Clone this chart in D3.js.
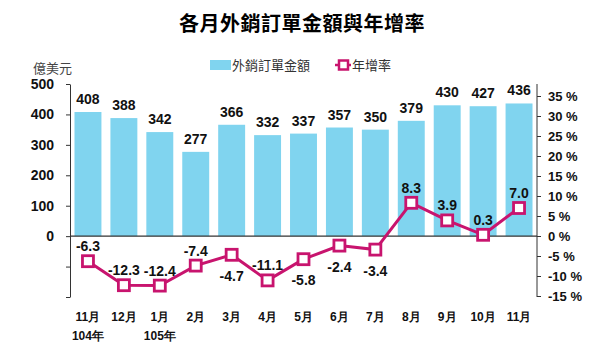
<!DOCTYPE html>
<html>
<head>
<meta charset="utf-8">
<script src="https://cdn.jsdelivr.net/npm/d3@7"></script>
<style>
  body { margin: 0; background: #fff; }
  svg { display: block; font-family: "Liberation Sans Narrow", "Liberation Sans", Arial, sans-serif; }
</style>
</head>
<body>
<svg id="chart" width="599" height="351"></svg>
<script>
// data
const months = ['11月', '12月', '1月', '2月', '3月', '4月', '5月', '6月', '7月', '8月', '9月', '10月', '11月'];
const yearLabels = ['104年', '', '105年', '', '', '', '', '', '', '', '', '', ''];
const orders = [408, 388, 342, 277, 366, 332, 337, 357, 350, 379, 430, 427, 436];
const growth = [-6.3, -12.3, -12.4, -7.4, -4.7, -11.1, -5.8, -2.4, -3.4, 8.3, 3.9, 0.3, 7.0];
const growthLabelSide = ['up', 'up', 'up', 'up', 'down', 'up', 'down', 'down', 'down', 'up', 'up', 'up', 'up'];
const leftTicks = [-200, -100, 0, 100, 200, 300, 400, 500];
const rightTicks = [-15, -10, -5, 0, 5, 10, 15, 20, 25, 30, 35];

const barColor = '#80d4ef';
const lineColor = '#c8146e';
const axisColor = '#333';

const svg = d3.select('#chart');
const plotLeft = 70, plotRight = 537, plotTop = 84, plotBottom = 297;

const x = d3.scaleBand().domain(d3.range(months.length)).range([plotLeft, plotRight]).paddingInner(0.25).paddingOuter(0.125);
const yL = d3.scaleLinear().domain([-200, 500]).range([plotBottom, plotTop]);
const yR = d3.scaleLinear().domain([-15, 35]).range([296, 96]);

// title
svg.append('text')
  .attr('x', 302).attr('y', 31)
  .attr('text-anchor', 'middle')
  .style('font-family', '"Noto Sans CJK TC", sans-serif')
  .style('font-weight', 'bold')
  .style('font-size', '20px')
  .style('letter-spacing', '0.5px')
  .text('各月外銷訂單金額與年增率');

// unit
svg.append('text')
  .attr('x', 33).attr('y', 73)
  .style('font-family', '"Noto Sans CJK TC", sans-serif')
  .style('font-size', '13px')
  .attr('fill', '#444')
  .text('億美元');

// legend
svg.append('rect').attr('x', 210).attr('y', 60).attr('width', 21).attr('height', 10).attr('fill', barColor);
svg.append('text').attr('x', 232).attr('y', 70)
  .style('font-family', '"Noto Sans CJK TC", sans-serif').style('font-size', '13px').attr('fill', '#333')
  .text('外銷訂單金額');
svg.append('line').attr('x1', 335).attr('x2', 351).attr('y1', 65).attr('y2', 65)
  .attr('stroke', lineColor).attr('stroke-width', 2.5);
svg.append('rect').attr('x', 339).attr('y', 60.5).attr('width', 9).attr('height', 9)
  .attr('fill', '#fff').attr('stroke', lineColor).attr('stroke-width', 2.5);
svg.append('text').attr('x', 352).attr('y', 70)
  .style('font-family', '"Noto Sans CJK TC", sans-serif').style('font-size', '13px').attr('fill', '#333')
  .text('年增率');

// bars
svg.append('g').selectAll('rect')
  .data(orders)
  .join('rect')
    .attr('x', (d, i) => x(i))
    .attr('width', x.bandwidth())
    .attr('y', d => yL(d))
    .attr('height', d => yL(0) - yL(d))
    .attr('fill', barColor);

svg.append('g').selectAll('text')
  .data(orders)
  .join('text')
    .attr('x', (d, i) => x(i) + x.bandwidth() / 2)
    .attr('y', d => yL(d) - 8)
    .attr('text-anchor', 'middle')
    .style('font-size', '14px')
    .style('font-weight', 'bold')
    .attr('fill', '#111')
    .text(d => d);

// left axis
const axisL = svg.append('g')
  .attr('transform', `translate(${plotLeft},0)`)
  .call(d3.axisLeft(yL).tickValues(leftTicks).tickSize(4).tickSizeOuter(0)
    .tickFormat(d => d >= 0 ? d : ''));
axisL.select('.domain').attr('stroke', axisColor);
axisL.selectAll('.tick line').attr('stroke', axisColor);
axisL.selectAll('.tick text')
  .attr('x', -16)
  .style('font-size', '14px').style('font-weight', 'bold')
  .style('font-family', '"Liberation Sans Narrow", Arial, sans-serif')
  .attr('fill', '#111');

// right axis
const axisR = svg.append('g')
  .attr('transform', `translate(${plotRight},0)`)
  .call(d3.axisRight(yR).tickValues(rightTicks).tickSize(4).tickSizeOuter(0)
    .tickFormat(d => d + ' %'));
axisR.select('.domain').attr('d', `M0,${plotTop}V${plotBottom}`).attr('stroke', axisColor);
axisR.selectAll('.tick line').attr('stroke', axisColor);
axisR.selectAll('.tick text')
  .attr('x', 11)
  .style('font-size', '13px').style('font-weight', 'bold')
  .style('font-family', '"Liberation Sans Narrow", Arial, sans-serif')
  .attr('fill', '#111');

// zero line
svg.append('line')
  .attr('x1', plotLeft).attr('x2', plotRight)
  .attr('y1', yL(0)).attr('y2', yL(0))
  .attr('stroke', axisColor).attr('stroke-width', 1.2);

// x labels
svg.append('g').selectAll('text')
  .data(months)
  .join('text')
    .attr('x', (d, i) => x(i) + x.bandwidth() / 2)
    .attr('y', 321)
    .attr('text-anchor', 'middle')
    .style('font-size', '12px').style('font-weight', 'bold')
    .attr('fill', '#111')
    .text(d => d);

svg.append('g').selectAll('text')
  .data(yearLabels)
  .join('text')
    .attr('x', (d, i) => x(i) + x.bandwidth() / 2)
    .attr('y', 340)
    .attr('text-anchor', 'middle')
    .style('font-size', '12px').style('font-weight', 'bold')
    .attr('fill', '#111')
    .text(d => d);

// growth line
const line = d3.line()
  .x((d, i) => x(i) + x.bandwidth() / 2)
  .y(d => yR(d));

svg.append('path')
  .datum(growth)
  .attr('d', line)
  .attr('fill', 'none')
  .attr('stroke', lineColor)
  .attr('stroke-width', 3);

svg.append('g').selectAll('rect')
  .data(growth)
  .join('rect')
    .attr('x', (d, i) => x(i) + x.bandwidth() / 2 - 5.5)
    .attr('y', d => yR(d) - 5.5)
    .attr('width', 11).attr('height', 11)
    .attr('fill', '#fff')
    .attr('stroke', lineColor)
    .attr('stroke-width', 2.8);

svg.append('g').selectAll('text')
  .data(growth)
  .join('text')
    .attr('x', (d, i) => x(i) + x.bandwidth() / 2)
    .attr('y', (d, i) => growthLabelSide[i] === 'up' ? yR(d) - 10 : yR(d) + 26)
    .attr('text-anchor', 'middle')
    .style('font-size', '14px').style('font-weight', 'bold')
    .attr('fill', '#111')
    .text(d => d.toFixed(1));
</script>
</body>
</html>
